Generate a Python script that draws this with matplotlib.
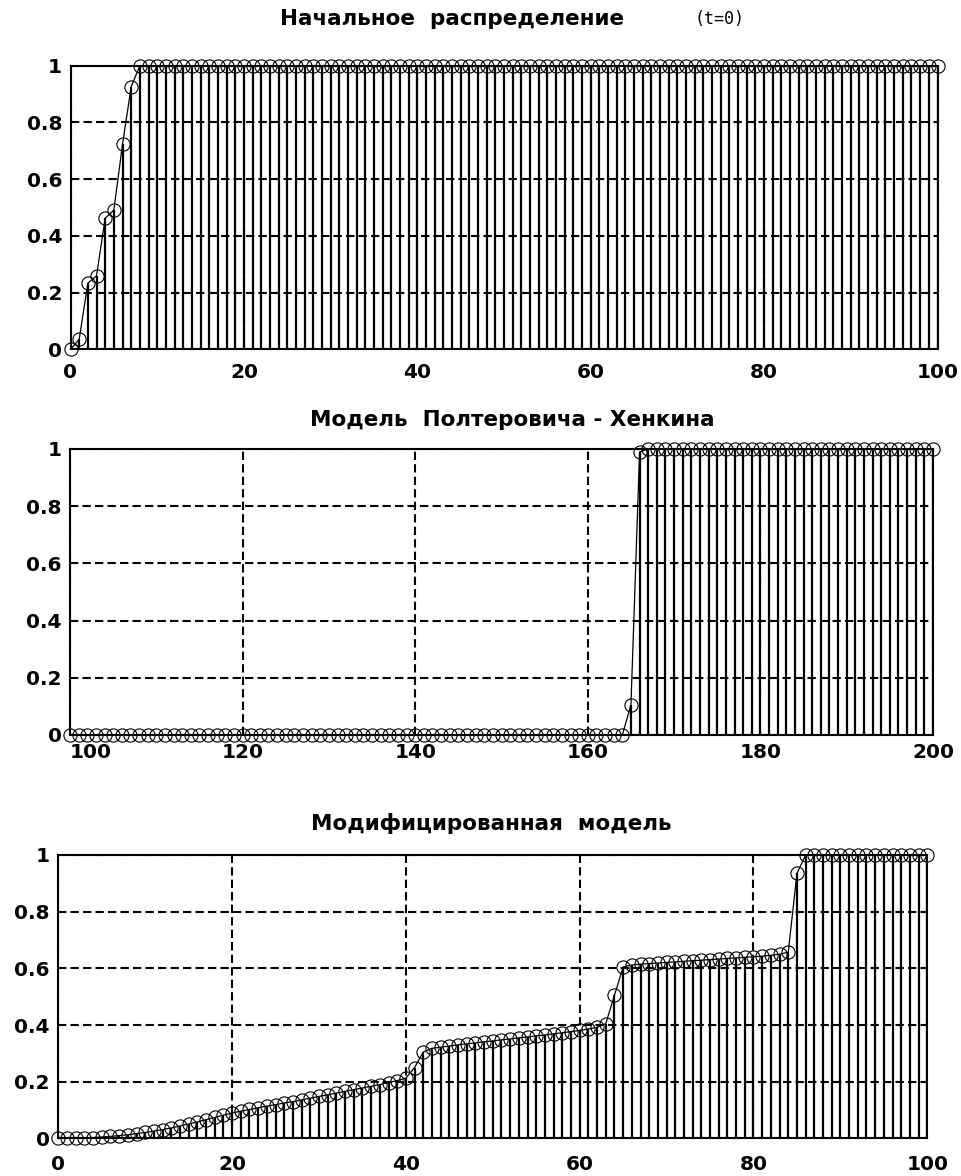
import numpy as np
import matplotlib
matplotlib.use('Agg')
from matplotlib import pyplot as plt

# initial distribution, t = 0
x1 = np.arange(0, 101)
y1 = [0.0, 0.035, 0.233, 0.259, 0.462, 0.491, 0.723, 0.926] + [1.0] * 93

# Polterovich - Henkin model
x2 = np.arange(100, 201)
y2 = [0.0] * 65 + [0.105, 0.99] + [1.0] * 34

# modified model
x3 = np.arange(0, 101)
y3 = [0.0, 0.0, 0.001, 0.002, 0.003, 0.005, 0.007, 0.010, 0.013, 0.017,
      0.021, 0.026, 0.031, 0.037, 0.044, 0.051, 0.058, 0.066, 0.074, 0.082,
      0.090, 0.096, 0.102, 0.108, 0.114, 0.119, 0.125, 0.130, 0.136, 0.142,
      0.148, 0.154, 0.160, 0.166, 0.172, 0.178, 0.184, 0.190, 0.197, 0.204,
      0.213, 0.250, 0.305, 0.318, 0.322, 0.326, 0.330, 0.334, 0.337, 0.341,
      0.344, 0.348, 0.351, 0.355, 0.358, 0.362, 0.365, 0.369, 0.373, 0.377,
      0.381, 0.386, 0.392, 0.405, 0.505, 0.605, 0.612, 0.615, 0.617, 0.619,
      0.621, 0.623, 0.625, 0.627, 0.629, 0.631, 0.633, 0.635, 0.637, 0.639,
      0.641, 0.643, 0.646, 0.650, 0.657, 0.935] + [1.0] * 15

xticks1 = [0, 20, 40, 60, 80, 100]
xticks2 = [100, 120, 140, 160, 180, 200]
yticks = [0, 0.2, 0.4, 0.6, 0.8, 1]
ylabels = ['0', '0.2', '0.4', '0.6', '0.8', '1']

plt.rcParams['font.family'] = ['DejaVu Sans']
plt.rcParams['font.weight'] = 'bold'

W, H = 961, 1176
fig = plt.figure(figsize=(W / 100, H / 100), dpi=100)


def panel(rect, x, y, xticks, xpad):
    # rect in pixels: left, top, right, bottom
    l, t, r, b = rect
    ax = fig.add_axes([l / W, 1 - b / H, (r - l) / W, (b - t) / H])
    st = ax.stem(x, y, linefmt='k-', markerfmt='ko', basefmt=' ')
    st.stemlines.set_linewidth(1.6)
    st.markerline.set_markerfacecolor('none')
    st.markerline.set_markeredgecolor('k')
    st.markerline.set_markersize(9.5)
    st.markerline.set_markeredgewidth(0.8)
    st.markerline.set_clip_on(False)
    ax.plot(x, y, 'k-', lw=0.9, clip_on=False)
    ax.set_xlim(xticks[0], xticks[-1])
    ax.set_ylim(0, 1)
    ax.set_xticks(xticks)
    ax.set_xticklabels([str(v) for v in xticks])
    ax.set_yticks(yticks)
    ax.set_yticklabels(ylabels)
    ax.tick_params(length=0, labelsize=14.5)
    ax.tick_params(axis='x', pad=xpad)
    ax.tick_params(axis='y', pad=6)
    ax.grid(True, color='k', linestyle=(0, (4, 2)), linewidth=1.5)
    ax.set_axisbelow(True)
    for s in ax.spines.values():
        s.set_linewidth(1.5)
    return ax


ax1 = panel((70.5, 65.7, 937.5, 349.3), x1, y1, xticks1, 10)
ax2 = panel((70, 449, 933, 735), x2, y2, xticks2, 6)
ax2.get_xticklabels()[0].set_horizontalalignment('left')
ax3 = panel((58.3, 855, 927.3, 1138.4), x3, y3, xticks1, 12)

fig.text(452 / W, 1 - 19 / H, 'Начальное  распределение', ha='center', va='center',
         fontsize=15.5, fontweight='bold')
fig.text(720 / W, 1 - 19 / H, '(t=0)', ha='center', va='center',
         fontsize=12, fontweight='normal', family='DejaVu Sans Mono')
fig.text(512 / W, 1 - 420 / H, 'Модель  Полтеровича - Хенкина', ha='center', va='center',
         fontsize=15.5, fontweight='bold')
fig.text(491 / W, 1 - 823 / H, 'Модифицированная  модель', ha='center', va='center',
         fontsize=15.5, fontweight='bold')

fig.savefig('out.png', dpi=100)
